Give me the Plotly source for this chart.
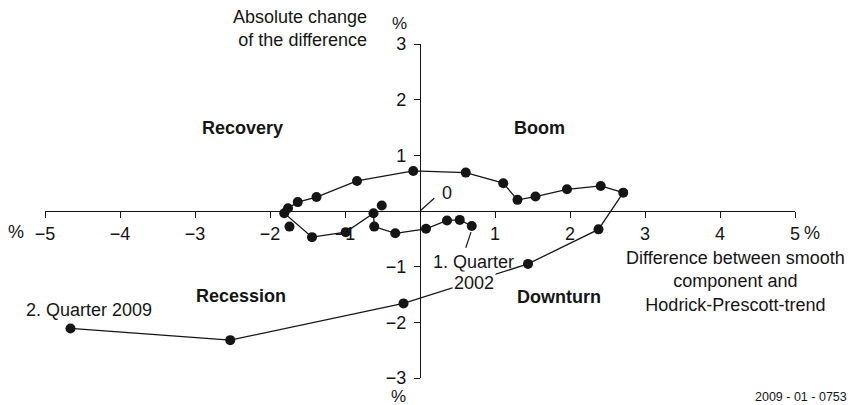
import plotly.graph_objects as go

# Quarterly cycle path, 1st quarter 2002 through 2nd quarter 2009
# x: difference between smooth component and Hodrick-Prescott trend (%)
# y: absolute change of that difference (%)
path_x = [0.69, 0.53, 0.36, 0.08, -0.33, -0.61, -0.62, -0.99, -1.44, -1.81,
          -1.76, -1.63, -1.38, -0.84, -0.09, 0.61, 1.11, 1.30, 1.54, 1.96,
          2.41, 2.71, 2.38, 1.44, -0.22, -2.53, -4.66]
path_y = [-0.27, -0.16, -0.17, -0.32, -0.40, -0.28, -0.04, -0.38, -0.47, -0.04,
          0.05, 0.16, 0.25, 0.54, 0.72, 0.69, 0.50, 0.20, 0.26, 0.39,
          0.45, 0.33, -0.33, -0.95, -1.66, -2.32, -2.11]

# Quarters plotted without a connecting segment
loose_x = [-0.51, -1.74]
loose_y = [0.10, -0.28]

x_ticks = [-5, -4, -3, -2, -1, 1, 2, 3, 4, 5]
y_ticks = [-3, -2, -1, 1, 2, 3]

phases = ["Recovery", "Boom", "Recession", "Downturn"]
phase_x = [-2.37, 1.59, -2.39, 1.85]
phase_y = [1.49, 1.49, -1.53, -1.54]

INK = "#151515"
FONT = "Liberation Sans, Arial, Helvetica, sans-serif"
FS = 18

fig = go.Figure()
fig.add_trace(go.Scatter(
    x=path_x, y=path_y, mode="lines+markers",
    line=dict(color=INK, width=1.3),
    marker=dict(color=INK, size=10),
    cliponaxis=False, hoverinfo="skip", showlegend=False))
fig.add_trace(go.Scatter(
    x=loose_x, y=loose_y, mode="markers",
    marker=dict(color=INK, size=10),
    cliponaxis=False, hoverinfo="skip", showlegend=False))

txt = dict(size=FS, color=INK)
annotations = []
for name, px, py in zip(phases, phase_x, phase_y):
    annotations.append(dict(x=px, y=py, text=f"<b>{name}</b>", showarrow=False, font=txt))

# labels inside the axis ranges (data coordinates)
annotations += [
    dict(x=4.21, y=-1.26, text="Difference between smooth<br>component and<br>Hodrick-Prescott-trend",
         showarrow=False, align="center", font=txt),
    dict(x=-4.41, y=-1.78, text="2. Quarter 2009", showarrow=False, font=txt),
    dict(x=0.71, y=-0.92, text="1. Quarter", showarrow=False, font=txt),
    dict(x=0.72, y=-1.29, text="2002", showarrow=False, bgcolor="white", font=txt),
    dict(x=0.36, y=0.32, text="0", showarrow=False, font=txt),
]


def margin_label(x, y, text, xanchor="center", size=FS, align="center"):
    return dict(xref="paper", yref="paper", x=x, y=y, text=text, showarrow=False,
                xanchor=xanchor, yanchor="middle", align=align,
                font=dict(size=size, color=INK))


# labels in the margins (paper coordinates)
annotations += [
    margin_label(0.432, 1.045, "Absolute change<br>of the difference", xanchor="right", align="right"),
    margin_label(0.472, 1.062, "%", size=17),
    margin_label(0.471, -0.055, "%", size=17),
    margin_label(-0.039, 0.437, "%"),
    margin_label(1.023, 0.434, "%"),
    margin_label(1.072, -0.058, "2009 - 01 - 0753", xanchor="right", size=12.5),
]

shapes = [
    dict(type="line", xref="x", yref="y", x0=0, y0=0, x1=0.19, y1=0.23,
         line=dict(color=INK, width=1.2)),
    dict(type="line", xref="x", yref="y", x0=0.61, y0=-0.66, x1=0.68, y1=-0.38,
         line=dict(color=INK, width=1.2)),
]

axis_common = dict(
    showgrid=False, zeroline=False, showline=True, linecolor=INK, linewidth=1.2,
    ticks="outside", ticklen=6, tickwidth=1.2, tickcolor=INK,
    tickfont=dict(size=FS, color=INK), anchor="free", position=0.5,
    layer="below traces", fixedrange=True,
)

fig.update_layout(
    width=856, height=405,
    margin=dict(l=45, r=61, t=44, b=27),
    paper_bgcolor="white", plot_bgcolor="white",
    font=dict(family=FONT, color=INK),
    xaxis=dict(range=[-5, 5], tickvals=x_ticks, **axis_common),
    yaxis=dict(range=[-3, 3], tickvals=y_ticks, ticklabelstandoff=4, **axis_common),
    annotations=annotations, shapes=shapes,
)

fig.write_html("out.html")
